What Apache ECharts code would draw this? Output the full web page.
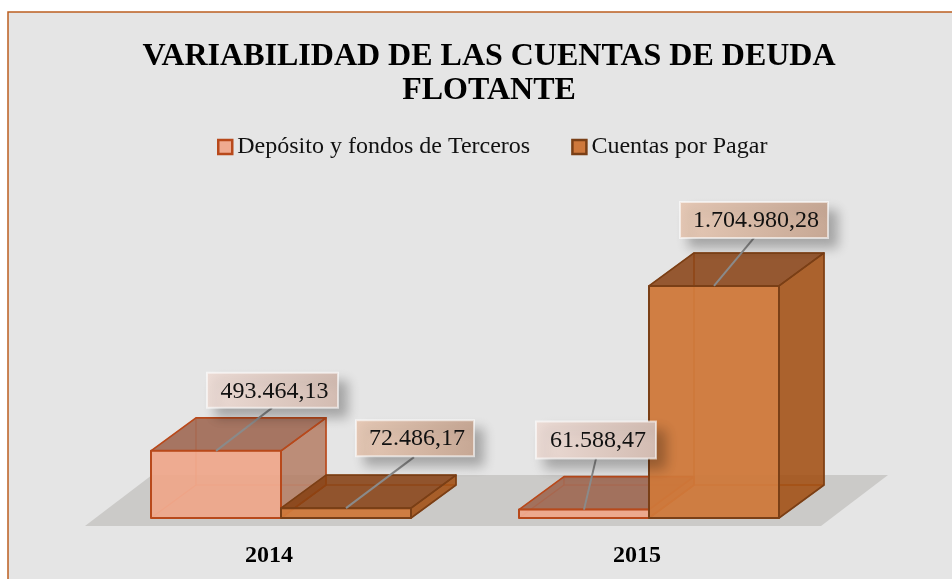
<!DOCTYPE html>
<html>
<head>
<meta charset="utf-8">
<style>html,body{margin:0;padding:0;background:#fff}#c{width:952px;height:579px}</style>
<script src="https://cdn.jsdelivr.net/npm/echarts@6/dist/echarts.min.js"></script>
</head>
<body>
<div id="c"></div>
<script>
const categories = ['2014', '2015'];
const depositos = [493464.13, 61588.47];
const cuentas = [72486.17, 1704980.28];
const depositosLabels = ['493.464,13', '61.588,47'];
const cuentasLabels = ['72.486,17', '1.704.980,28'];
const titleText = 'VARIABILIDAD DE LAS CUENTAS DE DEUDA\nFLOTANTE';
const nameDepositos = 'Depósito y fondos de Terceros';
const nameCuentas = 'Cuentas por Pagar';

const FONT = '"Liberation Serif","Times New Roman",serif';
const DEPTH_X = 45, DEPTH_Y = 33, BAR_FRACTION = 130 / 368, SHIFT = 12;

const skins = {
  dep: {
    stroke: '#B8491B', inner: 'rgba(240,130,90,0.55)',
    front: 'rgba(238,166,138,0.90)', top: 'rgba(150,92,70,0.80)', side: 'rgba(178,122,98,0.80)',
    inside: 'rgba(240,165,140,0.22)'
  },
  cue: {
    stroke: '#7A3F16', inner: 'rgba(190,95,30,0.75)',
    front: 'rgba(207,120,58,0.93)', top: 'rgba(130,60,15,0.80)', side: 'rgba(158,72,10,0.80)',
    inside: 'rgba(200,105,40,0.22)'
  }
};

// label box placement relative to the centre of the bar's top front edge: [dx, dy, w, h, lineEndDx, lineEndDy]
const labelPlaceDep = [[-9, -78, 131, 35, 56, -43], [-48, -88, 120, 37, 12, -51]];
const labelPlaceCue = [[10, -88, 118, 36, 68, -51], [-34, -84, 148, 36, 40, -48]];

function frontRect(api, slot) {
  const cat = api.value(0);
  const top = api.coord([cat, api.value(1)]);
  const base = api.coord([cat, 0]);
  const w = api.size([1, 0])[0] * BAR_FRACTION;
  const cx = top[0] + SHIFT;
  const x0 = slot === 0 ? cx - w : cx;
  return { x0: x0, x1: x0 + w, yTop: top[1], yBase: base[1] };
}

function poly(points, fill, stroke, lineWidth) {
  return {
    type: 'polygon', silent: true,
    shape: { points: points },
    style: { fill: fill, stroke: stroke, lineWidth: lineWidth, lineJoin: 'round' }
  };
}

function boxRenderer(slot, skin) {
  return function (params, api) {
    const r = frontRect(api, slot);
    const dx = DEPTH_X, dy = DEPTH_Y;
    const a = [r.x0, r.yBase], b = [r.x1, r.yBase], c = [r.x1, r.yTop], d = [r.x0, r.yTop];
    const a2 = [a[0] + dx, a[1] - dy], b2 = [b[0] + dx, b[1] - dy], c2 = [c[0] + dx, c[1] - dy], d2 = [d[0] + dx, d[1] - dy];
    return {
      type: 'group',
      children: [
        poly([a, b, b2, a2], skin.inside, skin.inner, 1.2),
        poly([a, a2, d2, d], skin.inside, skin.inner, 1.2),
        poly([a2, b2, c2, d2], skin.inside, skin.inner, 1.2),
        poly([b, b2, c2, c], skin.side, skin.stroke, 1.6),
        poly([d, c, c2, d2], skin.top, skin.stroke, 1.6),
        poly([a, b, c, d], skin.front, skin.stroke, 2)
      ]
    };
  };
}

function labelRenderer(slot, places, texts, fillA, fillB) {
  return function (params, api) {
    const r = frontRect(api, slot);
    const i = params.dataIndex;
    const p = places[i];
    const ax = (r.x0 + r.x1) / 2, ay = r.yTop;
    const bx = ax + p[0], by = ay + p[1];
    return {
      type: 'group',
      children: [
        {
          type: 'line', silent: true,
          shape: { x1: ax, y1: ay, x2: ax + p[4], y2: ay + p[5] },
          style: { stroke: '#8a8a8a', lineWidth: 2 }
        },
        {
          type: 'rect', silent: true,
          shape: { x: bx, y: by, width: p[2], height: p[3] },
          style: {
            fill: new echarts.graphic.LinearGradient(0, 0, 1, 0.4, [
              { offset: 0, color: fillA }, { offset: 1, color: fillB }
            ]),
            stroke: 'rgba(255,255,255,0.6)', lineWidth: 2,
            shadowColor: 'rgba(0,0,0,0.28)', shadowBlur: 12, shadowOffsetX: 9, shadowOffsetY: 9
          }
        },
        {
          type: 'text', silent: true,
          style: {
            x: bx + p[2] / 2 + 2, y: by + p[3] / 2 + 1,
            text: texts[i], fill: '#111', font: '24px ' + FONT,
            align: 'center', verticalAlign: 'middle'
          }
        }
      ]
    };
  };
}

function floorRenderer(params, api) {
  const g = params.coordSys;
  const yf = g.y + g.height + 8, yb = yf - 51, dx = 67;
  return {
    type: 'polygon', silent: true,
    shape: { points: [[g.x, yf], [g.x + g.width, yf], [g.x + g.width + dx, yb], [g.x + dx, yb]] },
    style: { fill: '#cbcac8' }
  };
}

const chart = echarts.init(document.getElementById('c'), null, { renderer: 'canvas' });
chart.setOption({
  animation: false,
  backgroundColor: '#ffffff',
  title: {
    text: titleText, left: 484, top: 35, textAlign: 'center',
    textStyle: { fontFamily: FONT, fontSize: 32, fontWeight: 'bold', color: '#000', lineHeight: 34 }
  },
  legend: {
    left: 212, top: 130, itemWidth: 14, itemHeight: 14, itemGap: 41, selectedMode: false,
    textStyle: { fontFamily: FONT, fontSize: 24, color: '#111' },
    data: [
      { name: nameDepositos, icon: 'rect', itemStyle: { color: '#EFAA90', borderColor: '#B8491B', borderWidth: 2.5 } },
      { name: nameCuentas, icon: 'rect', itemStyle: { color: '#CE783C', borderColor: '#7A3F16', borderWidth: 2.5 } }
    ]
  },
  graphic: [{
    type: 'rect', z: -10, silent: true,
    shape: { x: 8, y: 12, width: 1000, height: 620 },
    style: { fill: '#e5e5e5', stroke: '#BC5F20', lineWidth: 1.5 }
  }],
  grid: { left: 85, top: 273, width: 736, height: 245 },
  xAxis: {
    type: 'category', data: categories,
    axisLine: { show: false }, axisTick: { show: false },
    axisLabel: { margin: 26, fontFamily: FONT, fontSize: 24, fontWeight: 'bold', color: '#000' }
  },
  yAxis: { type: 'value', min: 0, max: 1800000, show: false },
  series: [
    {
      type: 'custom', name: 'floor', z: 1, silent: true, renderItem: floorRenderer,
      data: [[0, 0]], encode: { x: 0, y: 1 }, tooltip: { show: false }
    },
    {
      type: 'custom', name: nameDepositos, z: 2, renderItem: boxRenderer(0, skins.dep),
      itemStyle: { color: '#EFAA90' }, encode: { x: 0, y: 1 },
      data: depositos.map((v, i) => [i, v])
    },
    {
      type: 'custom', name: nameCuentas, z: 3, renderItem: boxRenderer(1, skins.cue),
      itemStyle: { color: '#CE783C' }, encode: { x: 0, y: 1 },
      data: cuentas.map((v, i) => [i, v])
    },
    {
      type: 'custom', name: 'etiquetasDep', z: 4, silent: true,
      renderItem: labelRenderer(0, labelPlaceDep, depositosLabels, '#ecdcd6', '#d3bcb2'),
      encode: { x: 0, y: 1 }, data: depositos.map((v, i) => [i, v])
    },
    {
      type: 'custom', name: 'etiquetasCue', z: 4, silent: true,
      renderItem: labelRenderer(1, labelPlaceCue, cuentasLabels, '#e6c9b6', '#c7a895'),
      encode: { x: 0, y: 1 }, data: cuentas.map((v, i) => [i, v])
    }
  ]
});
</script>
</body>
</html>
